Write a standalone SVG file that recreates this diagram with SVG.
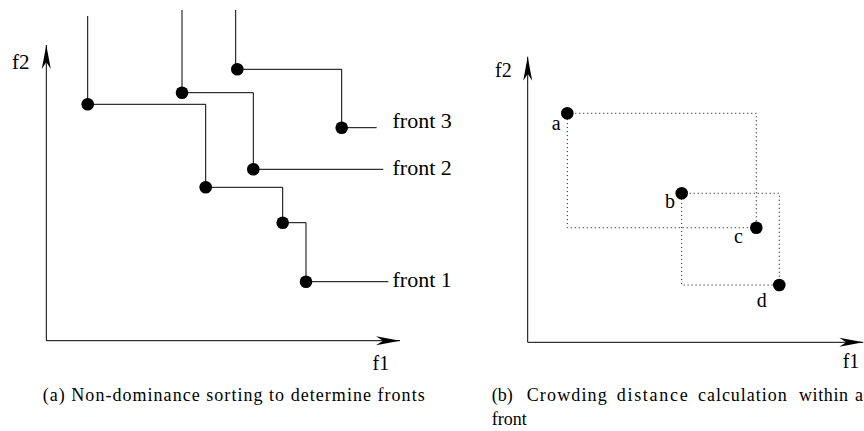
<svg xmlns="http://www.w3.org/2000/svg" width="864" height="431" viewBox="0 0 864 431">
<style>
.ln{fill:none;stroke:#000;stroke-width:1}
.dot{fill:none;stroke:#000;stroke-width:1;stroke-dasharray:1,3}
.pt{fill:#000}
.t{font-family:"Liberation Serif","Times New Roman","DejaVu Serif",serif;fill:#000}
.lab{font-size:22px}
.ax{font-size:20px}
.cap{font-size:18px}
</style>
<defs>
<marker id="arr" viewBox="-25 -5 26 10" refX="0" refY="0" markerWidth="26" markerHeight="10" markerUnits="userSpaceOnUse" orient="auto">
<path d="M0,0 L-24,-4.5 L-17,0 L-24,4.5 Z" fill="#000"/>
</marker>
</defs>
<rect width="864" height="431" fill="#fff"/>
<g id="panel-a">
<g id="axes-a">
<line class="ln" x1="46.3" y1="340.7" x2="46.3" y2="45" marker-end="url(#arr)"/>
<line class="ln" x1="46.3" y1="340.7" x2="400" y2="340.7" marker-end="url(#arr)"/>
<text class="t" x="12" y="68.5" style="font-size:21px">f2</text>
<text class="t ax" x="372.5" y="370">f1</text>
</g>
<g id="connectors-a">
<polyline class="ln" points="87.7,16 87.7,104.3 205.7,104.3 205.7,187.3 282.7,187.3 282.7,222.7 306,222.7 306,281.7 388.3,281.7"/>
<polyline class="ln" points="182,10 182,92.7 253.3,92.7 253.3,169.3 383.3,169.3"/>
<polyline class="ln" points="235.7,10 235.7,69.3 341.7,69.3 341.7,127.7 376.7,127.7"/>
</g>
<g id="front1">
<circle class="pt" cx="87.7" cy="104.3" r="6.3"/>
<circle class="pt" cx="205.7" cy="187.3" r="6.3"/>
<circle class="pt" cx="282.7" cy="222.7" r="6.3"/>
<circle class="pt" cx="306" cy="281.7" r="6.3"/>
<text class="t lab" x="392.5" y="286.7">front 1</text>
</g>
<g id="front2">
<circle class="pt" cx="182" cy="92.7" r="6.3"/>
<circle class="pt" cx="253.3" cy="169.3" r="6.3"/>
<text class="t lab" x="392.5" y="175">front 2</text>
</g>
<g id="front3">
<circle class="pt" cx="237.3" cy="69.3" r="6.3"/>
<circle class="pt" cx="341.7" cy="127.7" r="6.3"/>
<text class="t lab" x="392.5" y="128.3">front 3</text>
</g>
<text id="caption-a" class="t cap" x="42.7" y="401" textLength="382" lengthAdjust="spacing">(a) Non-dominance sorting to determine fronts</text>
</g>
<g id="panel-b">
<g id="axes-b">
<line class="ln" x1="527.7" y1="342.3" x2="527.7" y2="56.7" marker-end="url(#arr)"/>
<line class="ln" x1="527.7" y1="342.3" x2="863.3" y2="342.3" marker-end="url(#arr)"/>
<text class="t ax" x="495" y="77.3">f2</text>
<text class="t ax" x="842.7" y="368.3">f1</text>
</g>
<g id="connectors-b">
<rect class="dot" x="567.3" y="113.3" width="189" height="114.4"/>
<rect class="dot" x="681.7" y="193.3" width="97.6" height="91.7"/>
</g>
<g id="point-a"><circle class="pt" cx="567.3" cy="113.3" r="6.3"/><text class="t ax" x="551.7" y="130">a</text></g>
<g id="point-b"><circle class="pt" cx="681.7" cy="193.3" r="6.3"/><text class="t ax" x="665" y="208.3">b</text></g>
<g id="point-c"><circle class="pt" cx="756.3" cy="227.7" r="6.3"/><text class="t ax" x="734" y="243.3">c</text></g>
<g id="point-d"><circle class="pt" cx="779.3" cy="285" r="6.3"/><text class="t ax" x="756.7" y="306.7">d</text></g>
<text id="caption-b" class="t cap" y="401"><tspan x="491.7">(b)</tspan><tspan x="526.7" textLength="80" lengthAdjust="spacing">Crowding</tspan><tspan x="616.7" textLength="71" lengthAdjust="spacing">distance</tspan><tspan x="698" textLength="88.7" lengthAdjust="spacing">calculation</tspan><tspan x="799" textLength="49" lengthAdjust="spacing">within</tspan><tspan x="855">a</tspan></text>
<text class="t cap" x="491.7" y="425">front</text>
</g>
</svg>
